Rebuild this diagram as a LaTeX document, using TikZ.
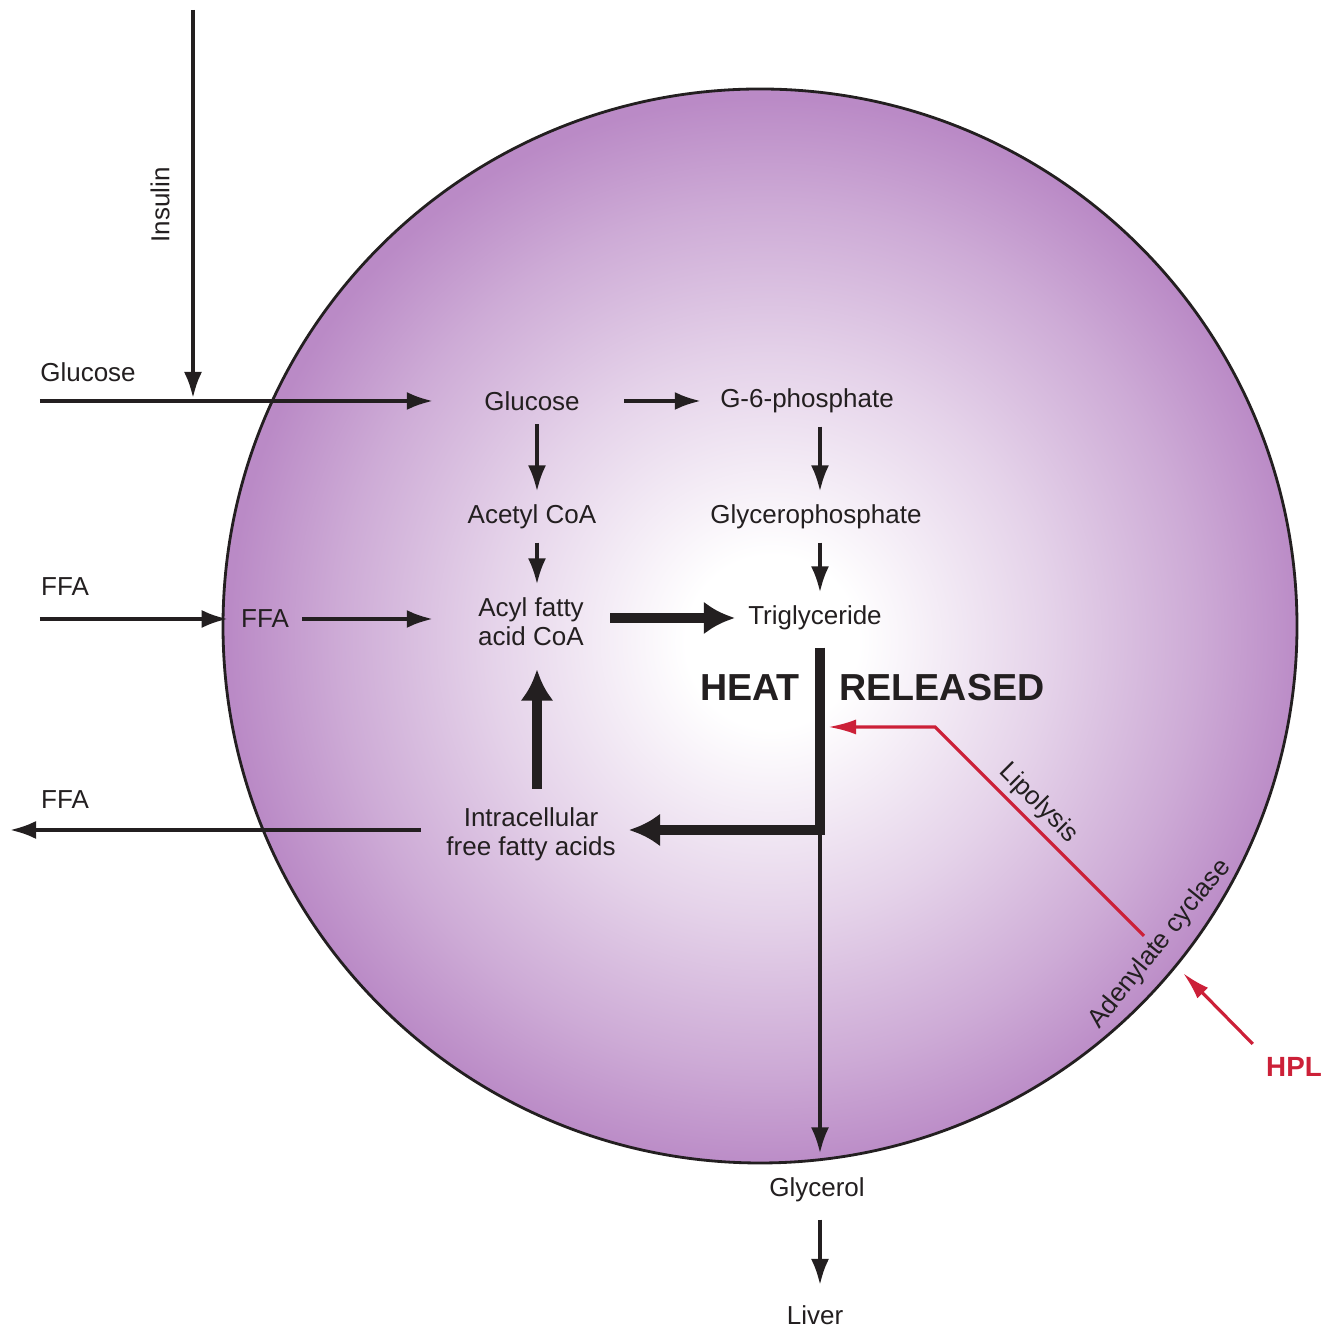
\documentclass[tikz,border=0pt]{standalone}
\usepackage{fontspec}
\setmainfont{Liberation Sans}
\usepackage{xcolor}
\definecolor{cInk}{RGB}{35,31,32}
\definecolor{cPurple}{RGB}{186,138,198}
\definecolor{cRed}{RGB}{204,32,56}
\usetikzlibrary{arrows.meta, calc}
\pgfdeclareradialshading{cellfill}{\pgfpoint{0.6bp}{-0.8bp}}{color(0bp)=(white); color(4bp)=(white); color(13bp)=(cPurple!38!white); color(20bp)=(cPurple!72!white); color(25bp)=(cPurple); color(50bp)=(cPurple)}

\begin{document}
\begin{tikzpicture}[font=\fontsize{7.4}{8.3}\selectfont, line width=1pt,
  txt/.style={text=cInk, align=center},
  ar/.style={draw=cInk, line width=1pt, -{Latex[length=2.6mm,width=1.8mm]}},
  bigar/.style={draw=cInk, line width=2.7pt, -{Latex[length=3.1mm,width=3.3mm]}},
  redar/.style={draw=cRed, line width=0.9pt, -{Latex[length=2.8mm,width=1.5mm]}}]
    \useasboundingbox (0,0) rectangle (13.33,13.28);

    % ---------- cell ----------
    \shadedraw[shading=cellfill, draw=cInk, line width=0.8pt] (7.60,7.02) circle (5.37);

    % ---------- columns and free ends ----------
    \coordinate (lcol) at (5.37,0);
    \coordinate (rcol) at (8.20,0);
    \coordinate (instop) at (1.93,13.18);
    \coordinate (insjoin) at (1.93,9.30);
    \coordinate (glcstart) at (0.40,9.27);
    \coordinate (ffastart) at (0.40,7.09);
    \coordinate (ffaoutend) at (0.10,4.98);
    \coordinate (tgjoin) at (8.20,4.98);
    \coordinate (lipstart) at (11.44,3.92);
    \coordinate (lipbend) at (9.35,6.01);
    \coordinate (liptip) at (8.28,6.01);
    \coordinate (hpltip) at (11.83,3.55);

    % ---------- outside labels ----------
    \node[txt, rotate=90] (inslbl) at (1.60,11.23) {Insulin};
    \node[txt] (glclbl) at (0.88,9.56) {Glucose};
    \node[txt] (ffalbl) at (0.65,7.41) {FFA};
    \node[txt] (ffaoutlbl) at (0.65,5.28) {FFA};

    % ---------- metabolites ----------
    \node[txt] (glc) at (5.32,9.27) {Glucose};
    \node[txt] (g6p) at (8.07,9.27) {G-6-phosphate};
    \node[txt] (acoa) at (5.32,8.11) {Acetyl CoA};
    \node[txt] (gp) at (8.16,8.11) {Glycerophosphate};
    \node[txt] (ffain) at (2.65,7.09) {FFA};
    \node[txt] (acyl) at (5.31,7.06) {Acyl fatty\\acid CoA};
    \node[txt] (tg) at (8.15,7.10) {Triglyceride};
    \node[txt] (iffa) at (5.31,4.94) {Intracellular\\free fatty acids};
    \node[txt] (glyc) at (8.17,1.38) {Glycerol};
    \node[txt] (liver) at (8.15,0.13) {Liver};
    \node[txt, font=\fontsize{10.7}{12}\selectfont\bfseries] (heat) at (7.50,6.40) {HEAT};
    \node[txt, font=\fontsize{10.7}{12}\selectfont\bfseries] (released) at (9.42,6.40) {RELEASED};
    \node[txt, rotate=51] (adcy) at (11.60,3.84) {Adenylate cyclase};
    \node[text=cRed, font=\fontsize{7.9}{9}\selectfont\bfseries] (hpl) at (12.94,2.61) {HPL};

    % ---------- uptake ----------
    \draw[ar] (instop) -- (insjoin);
    \draw[ar, shorten >=3.8mm] (glcstart) -- (glcstart -| glc.west);
    \draw[ar] (ffastart) -- (ffastart -| ffain.west);
    \draw[ar, shorten >=3.2mm] (ffain.east) -- (ffain.east -| acyl.west);

    % ---------- synthesis ----------
    \draw[ar, shorten <=3.1mm, shorten >=0.6mm] (glc.east) -- (g6p.west);
    \draw[ar] (glc.south -| lcol) -- (acoa.north -| lcol);
    \draw[ar] (acoa.south -| lcol) -- (acyl.north -| lcol);
    \draw[ar] (g6p.south -| rcol) -- (gp.north -| rcol);
    \draw[ar] (gp.south -| rcol) -- (tg.north -| rcol);
    \draw[bigar, shorten <=1.3mm] (acyl.east |- tg.west) -- (tg.west);

    % ---------- lipolysis ----------
    \draw[bigar, shorten <=0.4mm] (tg.south -| rcol) -- (tgjoin) -- (tgjoin -| iffa.east);
    \draw[ar, shorten >=1.1mm] (tgjoin) -- (tgjoin |- glyc.north);
    \draw[ar, shorten <=0.4mm, shorten >=0.7mm] (glyc.south -| rcol) -- (liver.north -| rcol);
    \draw[bigar, shorten <=0.5mm, shorten >=1mm] (iffa.north -| lcol) -- (acyl.south -| lcol);
    \draw[ar, shorten <=1.2mm] (iffa.west |- ffaoutend) -- (ffaoutend);

    % ---------- hormone signal ----------
    \draw[redar] (lipstart) -- node[txt, pos=0.57, sloped, above, inner sep=1.5pt] {Lipolysis} (lipbend) -- (liptip);
    \draw[redar] (hpl.north west) -- (hpltip);

\end{tikzpicture}
\end{document}
